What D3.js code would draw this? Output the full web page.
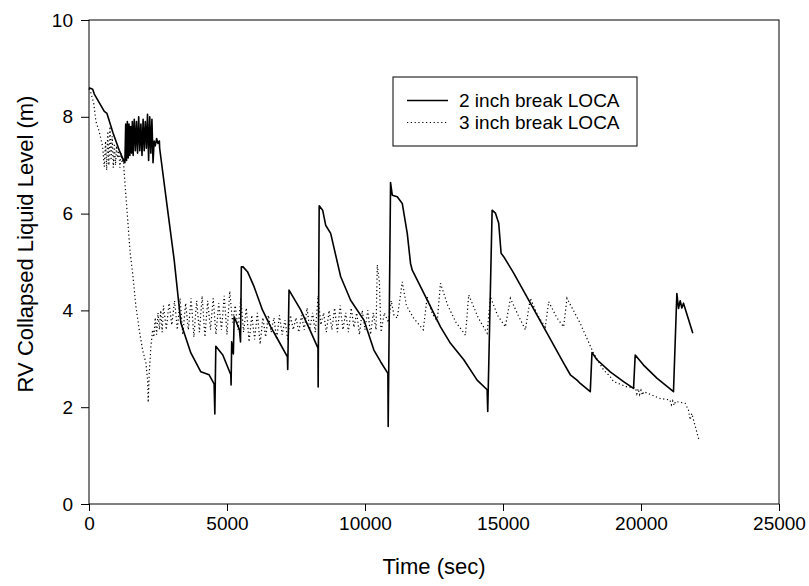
<!DOCTYPE html>
<html>
<head>
<meta charset="utf-8">
<script src="https://cdn.jsdelivr.net/npm/d3@7"></script>
<style>
  html, body { margin: 0; padding: 0; background: #fff; }
  svg { display: block; font-family: Arial, "Liberation Sans", sans-serif; }
</style>
</head>
<body>
<svg id="chart" width="809" height="586"></svg>
<script>
// ---- data ----
const seriesNames = ["2 inch break LOCA", "3 inch break LOCA"];
const xTicks = [0, 5000, 10000, 15000, 20000, 25000];
const yTicks = [0, 2, 4, 6, 8, 10];
const xLabel = "Time (sec)";
const yLabel = "RV Collapsed Liquid Level (m)";

// 2 inch break LOCA: time (s), level (m)
const time2 = [0,134,192,434,554,651,868,1096,1277,
  1300,1330,1360,1390,1420,1450,1480,1510,1540,1570,1600,1640,1680,1720,1760,1800,1840,1880,1920,1960,2000,2040,2080,2120,2160,2200,2240,2280,2320,2360,2400,2450,2500,2550,
  2560,2820,3087,3329,3690,4052,4352,4533,4559,4595,4848,5138,5148,5170,5230,5260,5450,5490,5520,5583,5742,5981,6284,6585,6947,7189,7200,7247,7670,8032,8296,8303,
  8340,8466,8575,8756,9117,9479,9961,10322,10565,10829,10840,10926,10988,11169,11350,11531,11650,11712,12012,12374,12735,13097,13579,14063,14425,14447,
  14606,14725,14845,14931,15025,15387,15992,16595,17197,17439,17681,17800,18162,18224,18405,18886,19368,19730,19790,20092,20575,21177,21299,21359,21420,21480,21539,21878];
const level2 = [8.60,8.57,8.47,8.23,8.11,8.07,7.67,7.31,7.07,
  7.05,7.85,7.10,7.90,7.15,7.85,7.20,7.80,7.25,7.90,7.20,7.95,7.30,7.90,7.25,8.00,7.30,7.85,7.20,7.95,7.30,7.90,7.35,8.05,7.10,8.00,7.25,7.95,7.05,7.50,7.40,7.55,7.45,7.50,
  7.35,6.20,5.04,3.74,3.12,2.73,2.67,2.48,1.86,3.26,3.08,2.67,2.46,3.35,3.10,3.87,3.60,3.35,4.90,4.90,4.80,4.49,4.01,3.66,3.29,3.04,2.78,4.42,4.01,3.56,3.22,2.42,
  6.16,6.07,5.76,5.59,4.70,4.21,3.80,3.18,2.94,2.70,1.60,6.64,6.38,6.35,6.21,5.59,4.97,4.83,4.49,4.08,3.66,3.32,2.98,2.56,2.36,1.91,
  6.07,6.01,5.80,5.18,5.11,4.77,4.15,3.53,2.91,2.67,2.56,2.49,2.32,3.13,2.98,2.73,2.53,2.39,3.08,2.87,2.60,2.32,4.35,4.04,4.20,4.05,4.15,3.53];

// 3 inch break LOCA: time (s), level (m)
const time3 = [0,72,170,253,373,495,554,600,640,680,720,760,800,840,880,920,960,1000,1040,1080,1120,1160,1200,1240,1277,
  1490,1581,1700,1820,1943,2062,2124,2145,2182,2243,2305,
  2350,2400,2450,2500,2550,2600,2650,2700,2800,2900,3000,3100,3200,3300,3400,3500,3600,3700,3800,3900,4000,4100,4200,4300,4400,4500,4600,4700,4800,4900,5000,
  5100,5200,5300,5400,5500,5600,5700,5800,5900,6000,6100,6200,6300,6400,6500,6600,6700,6800,6900,7000,7100,7200,7300,7400,7500,7600,7700,7800,7900,8000,
  8100,8200,8300,8400,8500,8600,8700,8800,8900,9000,9100,9200,9300,9400,9500,9600,9700,9800,9900,10000,10100,10200,10300,10400,
  10445,10520,10580,10700,10850,10950,11050,11169,11350,11500,11750,12110,12254,12435,12616,12735,13000,13300,13640,13759,14100,14425,14544,14800,15087,15268,
  15550,15811,15992,16250,16534,16655,16950,17197,17318,17800,18283,18645,18886,19006,19490,19800,19850,19900,19950,20000,20050,20100,20695,
  21050,21100,21150,21200,21250,21600,21720,21780,21840,22081,22142];
const level3 = [8.58,8.49,8.28,7.90,7.69,7.38,6.97,7.50,6.90,7.70,7.00,7.80,7.10,7.60,6.95,7.45,7.00,7.40,7.15,7.30,6.95,7.25,7.05,7.15,6.83,
  5.20,4.77,4.08,3.60,3.18,2.91,2.56,2.10,2.70,3.25,3.60,
  3.45,3.85,3.50,3.95,3.60,4.00,3.55,4.10,3.60,4.15,3.70,4.20,3.60,4.25,3.50,4.15,3.60,4.25,3.45,4.20,3.55,4.30,3.45,4.20,3.60,4.25,3.50,4.15,3.60,4.30,3.50,
  4.40,3.75,4.10,3.60,4.25,3.55,4.05,3.35,3.90,3.40,3.95,3.30,3.85,3.45,3.90,3.55,3.85,3.40,3.90,3.50,3.80,3.40,3.90,3.60,3.85,3.55,3.90,3.60,4.05,3.60,
  3.95,3.55,4.30,3.70,3.95,3.55,4.00,3.60,4.05,3.55,4.10,3.60,3.95,3.55,4.05,3.65,3.95,3.50,4.00,3.60,4.00,3.50,3.95,3.60,
  4.94,4.60,3.55,3.95,3.75,4.20,3.90,3.84,4.59,4.10,3.85,3.60,4.28,3.94,3.77,4.56,4.10,3.75,3.49,4.32,3.85,3.53,4.28,3.90,3.66,4.25,
  3.90,3.60,4.25,3.90,3.66,4.18,3.85,3.66,4.25,3.73,3.11,2.77,2.63,2.53,2.42,2.40,2.28,2.38,2.26,2.35,2.25,2.32,2.18,
  2.15,2.05,2.13,2.04,2.12,2.08,1.94,1.74,1.87,1.36,1.30];

// ---- layout ----
const svg = d3.select("#chart");
const mLeft = 89, mRight = 779, mTop = 20, mBottom = 504;
const x = d3.scaleLinear().domain([0, 25000]).range([mLeft, mRight]);
const y = d3.scaleLinear().domain([0, 10]).range([mBottom, mTop]);

// frame
svg.append("rect").attr("x", mLeft).attr("y", mTop)
  .attr("width", mRight - mLeft).attr("height", mBottom - mTop)
  .attr("fill", "none").attr("stroke", "#000").attr("stroke-width", 1);

// axes
const xAxis = svg.append("g").attr("transform", `translate(0,${mBottom})`)
  .call(d3.axisBottom(x).tickValues(xTicks).tickFormat(d3.format("d")).tickSize(7).tickSizeOuter(0).tickPadding(6));
const yAxis = svg.append("g").attr("transform", `translate(${mLeft},0)`)
  .call(d3.axisLeft(y).tickValues(yTicks).tickFormat(d3.format("d")).tickSize(8).tickSizeOuter(0).tickPadding(8));
[xAxis, yAxis].forEach(g => {
  g.select(".domain").remove();
  g.selectAll("text").attr("font-size", 19).attr("font-family", "Arial, 'Liberation Sans', sans-serif").attr("fill", "#000");
  g.selectAll("line").attr("stroke", "#000");
});

// axis titles
svg.append("text").attr("x", (mLeft + mRight) / 2).attr("y", 574)
  .attr("text-anchor", "middle").attr("font-size", 22).text(xLabel);
svg.append("text").attr("transform", "translate(33,244) rotate(-90)")
  .attr("text-anchor", "middle").attr("font-size", 22).text(yLabel);

// lines
const line = d3.line().x(d => x(d[0])).y(d => y(d[1]));
const data2 = time2.map((t, i) => [t, level2[i]]);
const data3 = time3.map((t, i) => [t, level3[i]]);

svg.append("path").datum(data3).attr("d", line)
  .attr("fill", "none").attr("stroke", "#000").attr("stroke-width", 1.2)
  .attr("stroke-dasharray", "1.2,2.6");
svg.append("path").datum(data2).attr("d", line)
  .attr("fill", "none").attr("stroke", "#000").attr("stroke-width", 1.6)
  .attr("stroke-linejoin", "round");

// legend
const lg = svg.append("g");
lg.append("rect").attr("x", 393).attr("y", 77).attr("width", 244).attr("height", 69)
  .attr("fill", "#fff").attr("stroke", "#000").attr("stroke-width", 1);
const rows = [{ name: seriesNames[0], dash: null, w: 1.6, yy: 100.5 },
              { name: seriesNames[1], dash: "1.2,2.6", w: 1.2, yy: 122.5 }];
rows.forEach(r => {
  const l = lg.append("line").attr("x1", 407).attr("x2", 448).attr("y1", r.yy).attr("y2", r.yy)
    .attr("stroke", "#000").attr("stroke-width", r.w);
  if (r.dash) l.attr("stroke-dasharray", r.dash);
  lg.append("text").attr("x", 459).attr("y", r.yy).attr("dy", "0.35em")
    .attr("font-size", 19).text(r.name);
});
</script>
</body>
</html>
